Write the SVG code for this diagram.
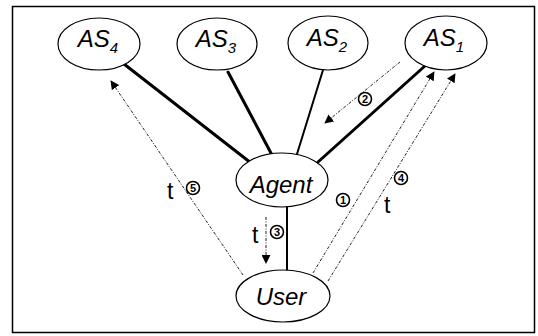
<svg xmlns="http://www.w3.org/2000/svg" width="538" height="336" viewBox="0 0 538 336">
  <style>
    .node { fill: #fff; stroke: #000; stroke-width: 1.2; }
    .lbl { font-family: "Liberation Sans", Arial, sans-serif; font-style: italic; font-size: 24px; fill: #000; text-anchor: middle; }
    .sub { font-size: 15px; }
    .link { stroke: #000; fill: none; stroke-linecap: round; }
    .msg { stroke: #222; stroke-width: 1; fill: none; stroke-dasharray: 3 1.5 1 1.5; }
    .t { font-family: "Liberation Sans", Arial, sans-serif; font-size: 23px; fill: #000; }
    .ring { fill: #fff; stroke: #000; stroke-width: 1.6; }
    .num { font-family: "Liberation Sans", Arial, sans-serif; font-weight: bold; font-size: 11px; fill: #000; text-anchor: middle; }
  </style>
  <defs>
    <marker id="arrow" viewBox="0 0 10 10" refX="9" refY="5" markerWidth="9" markerHeight="9" markerUnits="userSpaceOnUse" orient="auto">
      <path d="M0,0 L10,5 L0,10 z" fill="#000"/>
    </marker>
  </defs>
  <rect x="12.5" y="6.5" width="522" height="326" fill="#fff" stroke="#000" stroke-width="1.5"/>

  <g id="connectors">
    <!-- solid links from agent -->
    <line class="link" x1="124" y1="64" x2="251" y2="163" stroke-width="3"/>
    <line class="link" x1="228" y1="72" x2="272" y2="155" stroke-width="3"/>
    <line class="link" x1="323" y1="70" x2="297" y2="154" stroke-width="2"/>
    <line class="link" x1="426" y1="65" x2="318" y2="162" stroke-width="3"/>
    <line class="link" x1="287" y1="207" x2="287" y2="270" stroke-width="2"/>
    <!-- message flows -->
    <line class="msg" x1="313" y1="273" x2="434" y2="72" marker-end="url(#arrow)"/>
    <line class="msg" x1="400" y1="62" x2="325" y2="123" marker-end="url(#arrow)"/>
    <line class="msg" x1="266" y1="217" x2="266" y2="263" marker-end="url(#arrow)"/>
    <line class="msg" x1="328" y1="281" x2="455" y2="74" marker-end="url(#arrow)"/>
    <line class="msg" x1="243" y1="275" x2="111" y2="81" marker-end="url(#arrow)"/>
    <!-- step labels -->
    <circle class="ring" cx="343" cy="200" r="6.5"/>
    <text class="num" x="343" y="204">1</text>
    <circle class="ring" cx="365" cy="99" r="6.5"/>
    <text class="num" x="365" y="103">2</text>
    <text class="t" x="252" y="243">t</text>
    <circle class="ring" cx="277" cy="232" r="6.5"/>
    <text class="num" x="277" y="236">3</text>
    <circle class="ring" cx="401" cy="178" r="6.5"/>
    <text class="num" x="401" y="182">4</text>
    <text class="t" x="384" y="213">t</text>
    <text class="t" x="167" y="199">t</text>
    <circle class="ring" cx="193" cy="188" r="6.5"/>
    <text class="num" x="193" y="192">5</text>
  </g>

  <g id="as4">
    <ellipse class="node" cx="99" cy="44" rx="41" ry="26"/>
    <text class="lbl" x="98" y="47">AS<tspan class="sub" dy="6">4</tspan></text>
  </g>
  <g id="as3">
    <ellipse class="node" cx="217" cy="44" rx="40" ry="26"/>
    <text class="lbl" x="216" y="47">AS<tspan class="sub" dy="6">3</tspan></text>
  </g>
  <g id="as2">
    <ellipse class="node" cx="328" cy="43" rx="40" ry="27"/>
    <text class="lbl" x="327" y="46">AS<tspan class="sub" dy="6">2</tspan></text>
  </g>
  <g id="as1">
    <ellipse class="node" cx="446" cy="43" rx="41" ry="27"/>
    <text class="lbl" x="444" y="46">AS<tspan class="sub" dy="6">1</tspan></text>
  </g>
  <g id="agent">
    <ellipse class="node" cx="282" cy="180" rx="46" ry="27"/>
    <text class="lbl" x="281" y="193">Agent</text>
  </g>
  <g id="user">
    <ellipse class="node" cx="283" cy="296" rx="47" ry="26"/>
    <text class="lbl" x="281" y="305">User</text>
  </g>
</svg>
